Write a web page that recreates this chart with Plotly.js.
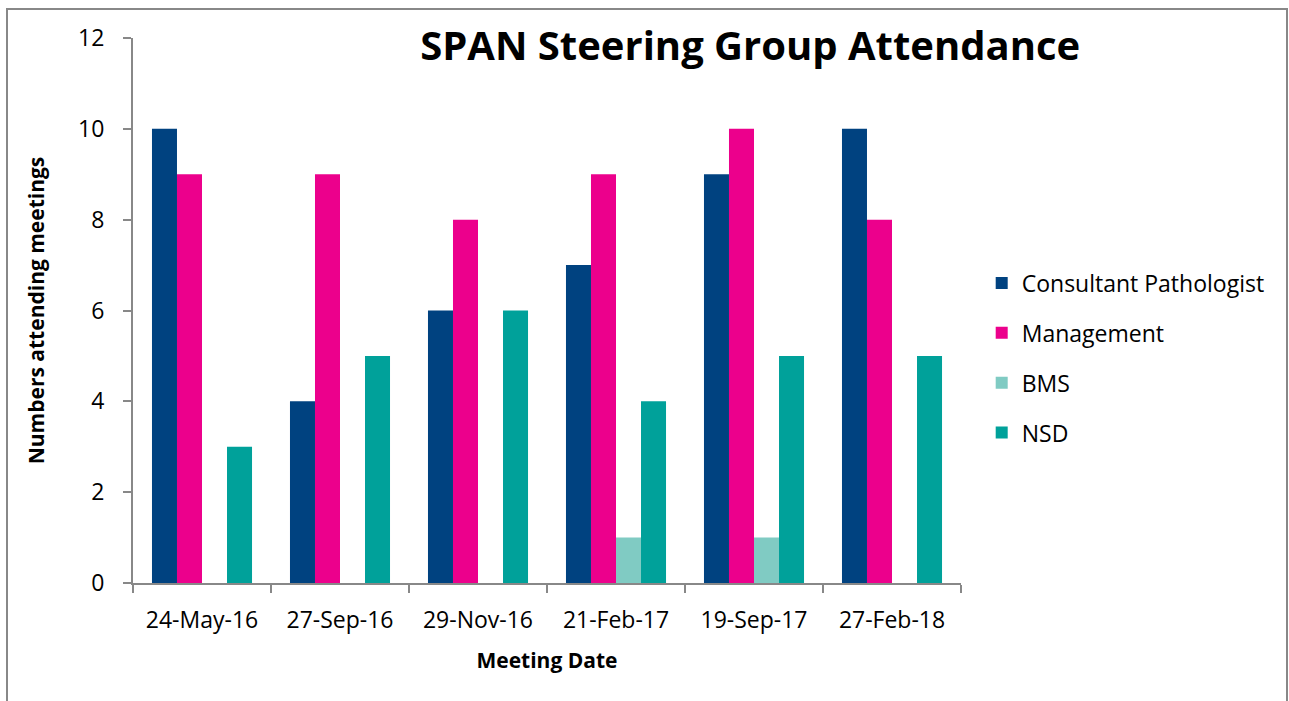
<!DOCTYPE html>
<html>
<head>
<meta charset="utf-8">
<script src="https://cdn.plot.ly/plotly-3.0.1.min.js"></script>
<style>
  body { margin: 0; background: #fff; }
  #chart { position: absolute; left: 0; top: 0; width: 1289px; height: 701px; }
  #frame { position: absolute; left: 6px; top: 8px; width: 1278px; height: 700px;
           border: 2px solid #888; border-bottom: none; pointer-events: none; }
</style>
</head>
<body>
<div id="chart"></div>
<div id="frame"></div>
<script>
var dates = ['24-May-16', '27-Sep-16', '29-Nov-16', '21-Feb-17', '19-Sep-17', '27-Feb-18'];
var consultant = [10, 4, 6, 7, 9, 10];
var management = [9, 9, 8, 9, 10, 8];
var bms = [0, 0, 0, 1, 1, 0];
var nsd = [3, 5, 6, 4, 5, 5];

var font = '"Open Sans", sans-serif';

function bar(name, y, color) {
    return {
        x: dates,
        y: y,
        name: name,
        type: 'bar',
        legendgroup: name,
        marker: {color: color},
        hoverinfo: 'x+y+name'
    };
}

var data = [
    bar('Consultant Pathologist', consultant, '#004280'),
    bar('Management', management, '#EC008C'),
    bar('BMS', bms, '#80CBC3'),
    bar('NSD', nsd, '#00A19A')
];

var layout = {
    width: 1289,
    height: 701,
    margin: {l: 133, r: 328, t: 38, b: 118},
    paper_bgcolor: 'rgba(0,0,0,0)',
    plot_bgcolor: 'rgba(0,0,0,0)',
    font: {family: font, size: 20, color: '#000'},
    barmode: 'group',
    bargap: 0.275,
    bargroupgap: 0,
    title: {
        text: '<b>SPAN Steering Group Attendance</b>',
        font: {size: 40, family: font},
        x: 0.582, xanchor: 'center',
        y: 0.935, yanchor: 'middle'
    },
    xaxis: {
        title: {text: '<b>Meeting Date</b>', font: {size: 21}, standoff: 20},
        showline: true, linecolor: '#888', linewidth: 2,
        ticks: 'outside', ticklen: 8, tickcolor: '#888', tickwidth: 2,
        tickson: 'boundaries',
        showgrid: false, zeroline: false,
        ticklabelstandoff: 15,
        tickfont: {size: 23}
    },
    yaxis: {
        title: {text: '<b>Numbers attending meetings</b>', font: {size: 21}, standoff: 28},
        range: [0, 12],
        dtick: 2,
        showline: true, linecolor: '#888', linewidth: 2,
        ticks: 'outside', ticklen: 8, tickcolor: '#888', tickwidth: 2,
        showgrid: false, zeroline: false,
        ticklabelstandoff: 14,
        tickfont: {size: 23}
    },
    showlegend: true,
    legend: {
        x: 1.025, xanchor: 'left',
        y: 0.59, yanchor: 'top',
        traceorder: 'grouped',
        tracegroupgap: 17,
        font: {size: 23},
        itemclick: false
    }
};

Plotly.newPlot('chart', data, layout, {displayModeBar: false, staticPlot: true});
</script>
</body>
</html>
